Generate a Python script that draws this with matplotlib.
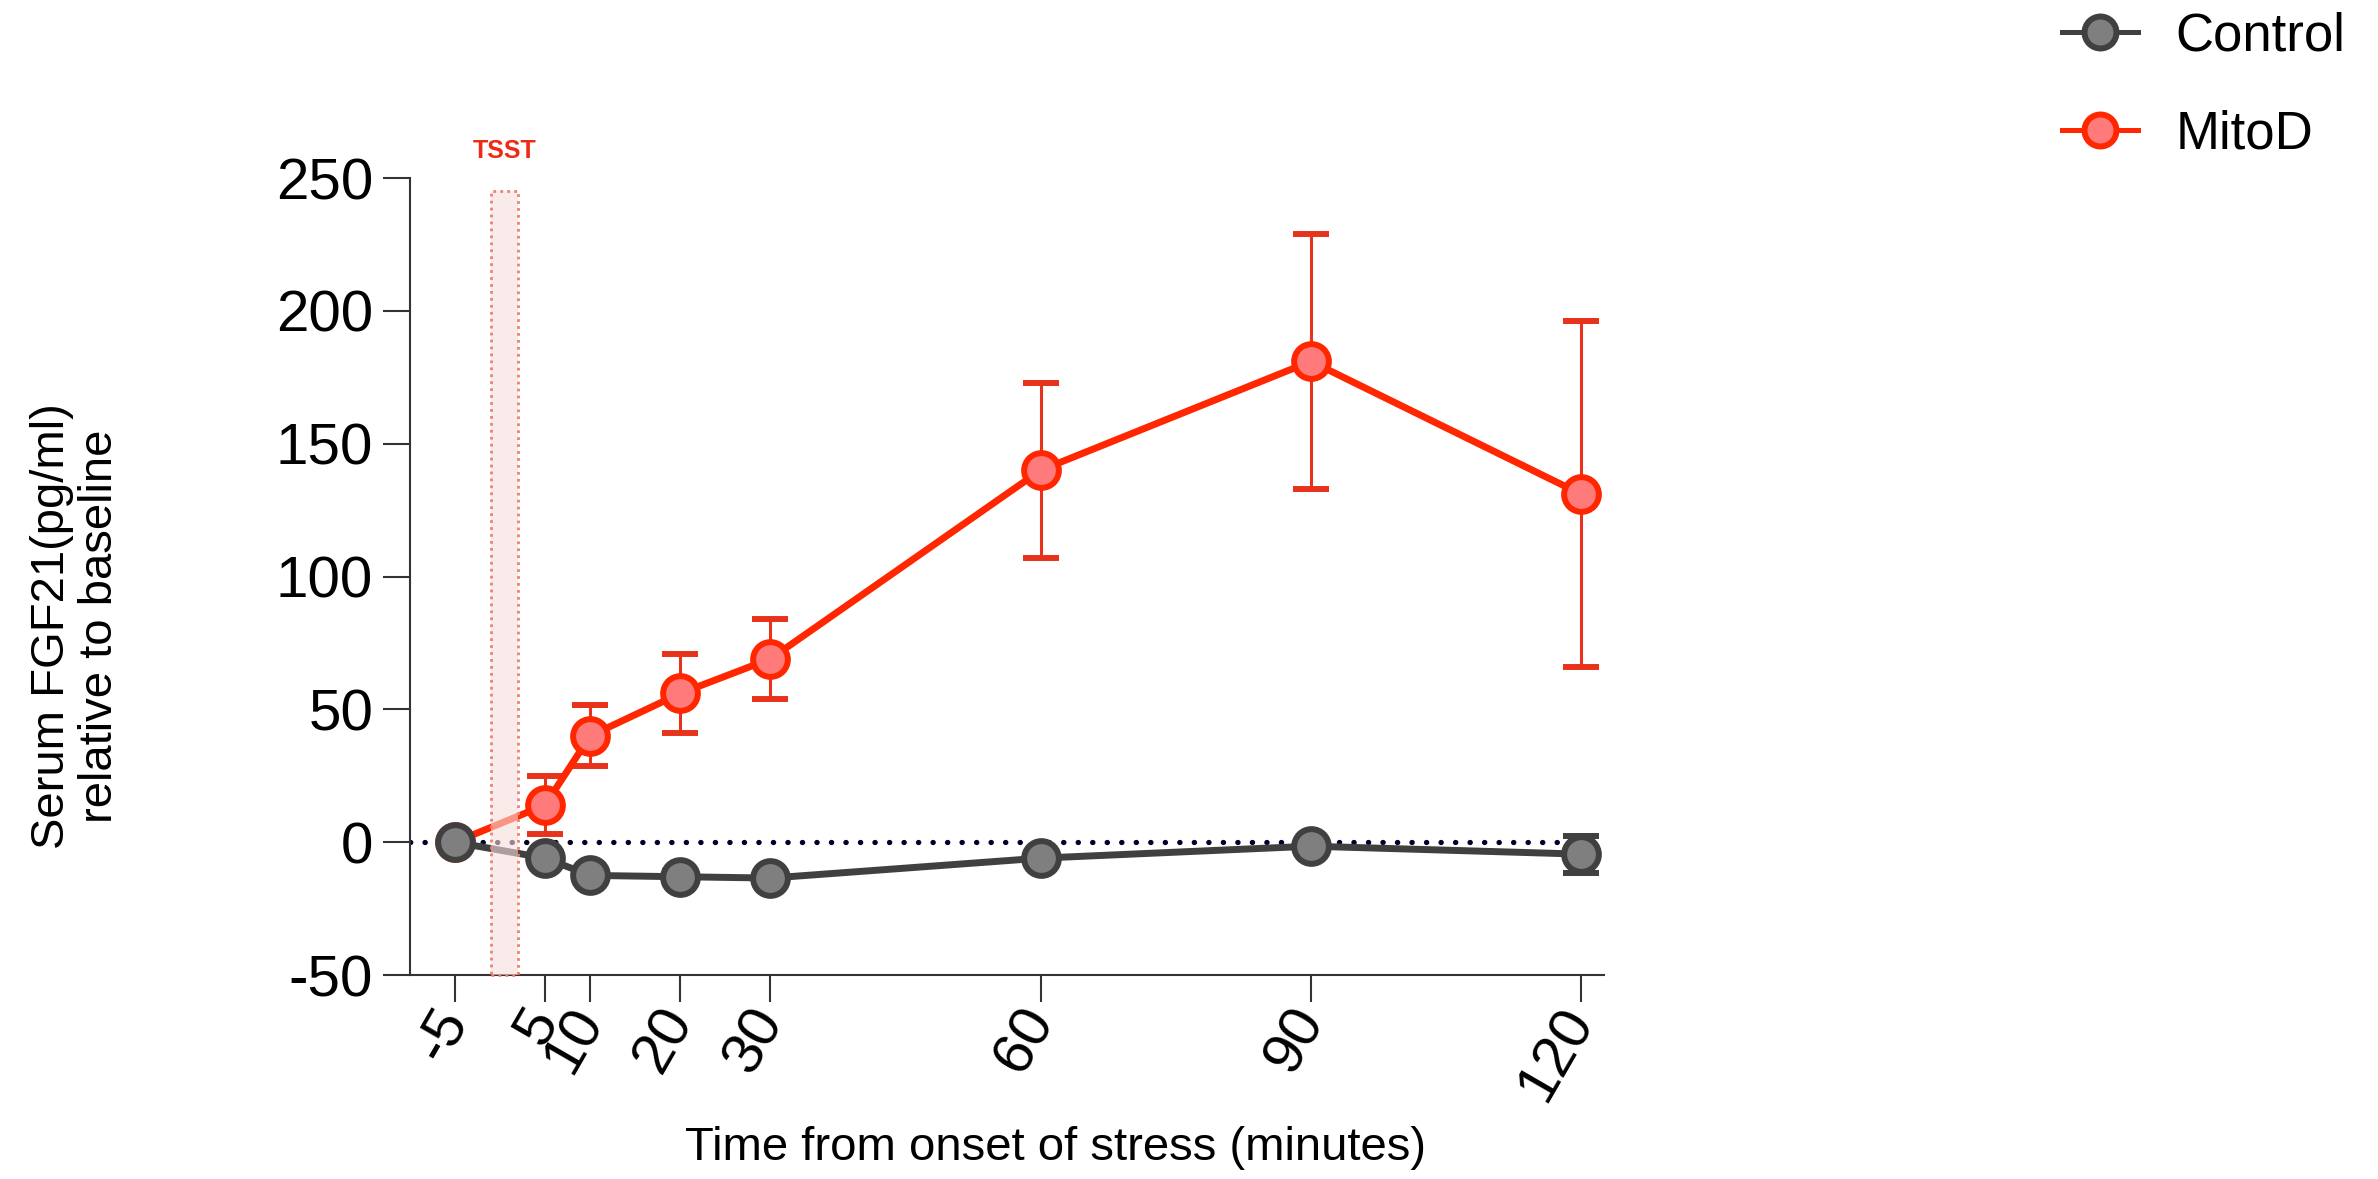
import matplotlib
matplotlib.use("Agg")
import matplotlib.pyplot as plt
from matplotlib.patches import Rectangle
from matplotlib.lines import Line2D

plt.rcParams["font.family"] = ["Liberation Sans", "DejaVu Sans"]
plt.rcParams["axes.unicode_minus"] = False

# time points (minutes from stress onset)
times = [-5, 5, 10, 20, 30, 60, 90, 120]

control_mean = [0, -6, -12.5, -13, -13.5, -6, -1.5, -4.5]
control_err = [0, 2, 2, 2, 2, 2, 2, 7]

mitod_mean = [0, 14, 40, 56, 69, 140, 181, 131]
mitod_err = [0, 11, 11.5, 15, 15, 33, 48, 65]

xticks = [-5, 5, 10, 20, 30, 60, 90, 120]
yticks = [-50, 0, 50, 100, 150, 200, 250]

tsst_start, tsst_end = -1, 2

control_line = "#404040"
control_face = "#7f7f7f"
mitod_line = "#ff2600"
mitod_face = "#ff7b7b"
mitod_bar = "#e8331c"

fig = plt.figure(figsize=(23.78, 11.79), dpi=100)
ax = fig.add_axes([0.1724, 0.173, 0.502, 0.676])

# baseline
ax.plot([-10, 120], [0, 0], linestyle=(0, (0.05, 2.7)), color="#00002a",
        lw=3.8, dash_capstyle="round", zorder=1)

ax.errorbar(times, mitod_mean, yerr=mitod_err, color=mitod_line, lw=5,
            marker="o", ms=25, mfc=mitod_face, mec=mitod_line, mew=4.3,
            ecolor=mitod_bar, elinewidth=2.2, capsize=13, capthick=2.2, zorder=3)
ax.errorbar(times, control_mean, yerr=control_err, color=control_line, lw=5,
            marker="o", ms=25, mfc=control_face, mec=control_line, mew=4.3,
            ecolor=control_line, elinewidth=2.2, capsize=13, capthick=2.2, zorder=4)

# TSST window
ax.add_patch(Rectangle((tsst_start, -50), tsst_end - tsst_start, 295,
                       facecolor="#f7dede", alpha=0.6, edgecolor="none", zorder=5))
ax.add_patch(Rectangle((tsst_start, -50), tsst_end - tsst_start, 295,
                       facecolor="none", edgecolor="#f08070", lw=2,
                       linestyle=(0, (1, 1.5)), zorder=5, clip_on=False))
ax.text((tsst_start + tsst_end) / 2, 260, "TSST", color="#ee2a15",
        fontsize=18, fontweight="bold", ha="center", va="center")

ax.set_xlim(-10, 122.5)
ax.set_ylim(-50, 250)
ax.set_xticks(xticks)
ax.set_yticks(yticks)
ax.set_xticklabels([str(t) for t in xticks], rotation=60, ha="right",
                   va="center", rotation_mode="anchor")
ax.tick_params(axis="both", labelsize=42, length=19.5, width=1.5,
               color="#333333", pad=7)
for s in ["top", "right"]:
    ax.spines[s].set_visible(False)
for s in ["left", "bottom"]:
    ax.spines[s].set_linewidth(1.5)
    ax.spines[s].set_color("#333333")

fig.text(0.032, 0.469, "Serum FGF21(pg/ml)\nrelative to baseline",
         rotation=90, ha="center", va="center", fontsize=34, linespacing=1.1)
fig.text(0.444, 0.026, "Time from onset of stress (minutes)",
         ha="center", va="center", fontsize=34)

handles = [
    Line2D([], [], color=control_line, lw=3.6, marker="o", ms=23,
           mfc=control_face, mec=control_line, mew=4.3),
    Line2D([], [], color=mitod_line, lw=3.6, marker="o", ms=23,
           mfc=mitod_face, mec=mitod_line, mew=4.3),
]
fig.legend(handles, ["Control", "MitoD"], loc="upper left",
           bbox_to_anchor=(0.867, 0.99), frameon=False, fontsize=38,
           handlelength=1.44, labelspacing=0.9, handletextpad=0.72,
           borderpad=0, borderaxespad=0)

fig.savefig("out.png", dpi=100)
